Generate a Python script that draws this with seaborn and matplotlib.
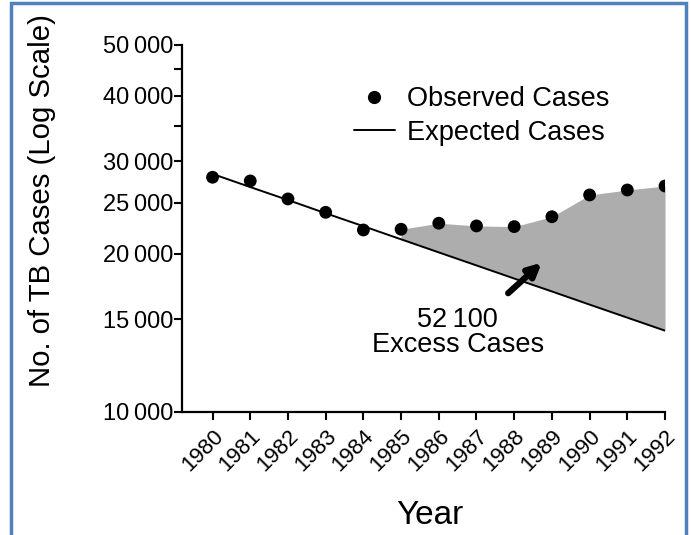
import matplotlib
matplotlib.use("Agg")
import matplotlib.pyplot as plt
from matplotlib.patches import Rectangle
from matplotlib.lines import Line2D
import seaborn as sns
import pandas as pd

# ---- data ----
years = [1980, 1981, 1982, 1983, 1984, 1985, 1986, 1987, 1988, 1989, 1990, 1991, 1992]
observed = [27980, 27530, 25440, 23990, 22200, 22270, 22870, 22600, 22530, 23530, 25890, 26460, 26930]
expected = [28390, 26800, 25320, 23890, 22570, 21310, 20120, 19000, 17940, 16950, 16000, 15110, 14270]
excess_start_year = 1985
ytick_values = [10000, 15000, 20000, 25000, 30000, 35000, 40000, 45000, 50000]
ytick_labels = ["10\u2009000", "15\u2009000", "20\u2009000", "25\u2009000", "30\u2009000", "", "40\u2009000", "", "50\u2009000"]
xtick_labels = [str(y) for y in years]
annotation_number = "52\u2009100"
annotation_text = "Excess Cases"

df = pd.DataFrame({"Year": years, "Observed": observed, "Expected": expected})

sns.set_style("ticks")
plt.rcParams["font.family"] = ["Liberation Sans", "DejaVu Sans"]
plt.rcParams["text.color"] = "black"
plt.rcParams["axes.labelcolor"] = "black"
plt.rcParams["xtick.color"] = "black"
plt.rcParams["ytick.color"] = "black"
plt.rcParams["axes.edgecolor"] = "black"

fig = plt.figure(figsize=(6.91, 5.35), dpi=100)
ax = fig.add_axes([0.2634, 0.2305, 0.6990, 0.6854])

# shaded excess area
sub = df[df["Year"] >= excess_start_year]
ax.fill_between(sub["Year"], sub["Expected"], sub["Observed"], color="#adadad", lw=0, zorder=1)

sns.lineplot(data=df, x="Year", y="Expected", ax=ax, color="black", lw=1.4, zorder=2)
sns.scatterplot(data=df, x="Year", y="Observed", ax=ax, color="black", s=85, edgecolor="none", zorder=3)

ax.set_yscale("log")
ax.set_ylim(10000, 50000)
ax.set_xlim(1979.19, 1992)
ax.set_yticks(ytick_values)
ax.set_yticklabels(ytick_labels, fontsize=17)
ax.yaxis.set_minor_locator(matplotlib.ticker.NullLocator())
ax.set_xticks(years)
ax.set_xticklabels(xtick_labels, fontsize=16, rotation=45, ha="right", va="top", rotation_mode="anchor")

for s in ["top", "right"]:
    ax.spines[s].set_visible(False)
for s in ["left", "bottom"]:
    ax.spines[s].set_linewidth(1.6)
ax.tick_params(axis="y", direction="out", length=5.5, width=1.5, pad=1)
ax.tick_params(axis="x", direction="out", length=6, width=1.5, pad=4)

ax.set_xlabel("Year", fontsize=24, va="center")
ax.xaxis.set_label_coords(0.513, -0.284)
ax.set_ylabel("No. of TB Cases (Log Scale)", fontsize=21.2, va="center")
ax.yaxis.set_label_coords(-0.290, 0.577)

# annotation
ax.annotate("", xy=(1988.73, 19230), xytext=(1987.84, 16820),
            arrowprops=dict(arrowstyle="-|>", lw=4.5, mutation_scale=19, color="black", shrinkA=0, shrinkB=0))
ax.text(1986.5, 14950, annotation_number, fontsize=19.5, ha="center", va="center")
ax.text(1986.5, 13400, annotation_text, fontsize=19.5, ha="center", va="center")

# legend
handles = [Line2D([], [], marker="o", color="black", ls="none", markersize=8.5),
           Line2D([], [], color="black", lw=1.4)]
ax.legend(handles, ["Observed Cases", "Expected Cases"], loc="upper left",
          bbox_to_anchor=(354 / 691, 1 - 86 / 535), bbox_transform=fig.transFigure,
          frameon=False, fontsize=19.5, handlelength=1.5, handletextpad=0.45, labelspacing=0.28,
          borderpad=0, borderaxespad=0)

# blue frame around the image
fig.patches.append(Rectangle((11 / 691, -0.05), (686 - 11) / 691, 1.05 - 3 / 535,
                             transform=fig.transFigure, fill=False, edgecolor="#4F81BD", lw=2.5))

fig.savefig("out.png", dpi=100)
